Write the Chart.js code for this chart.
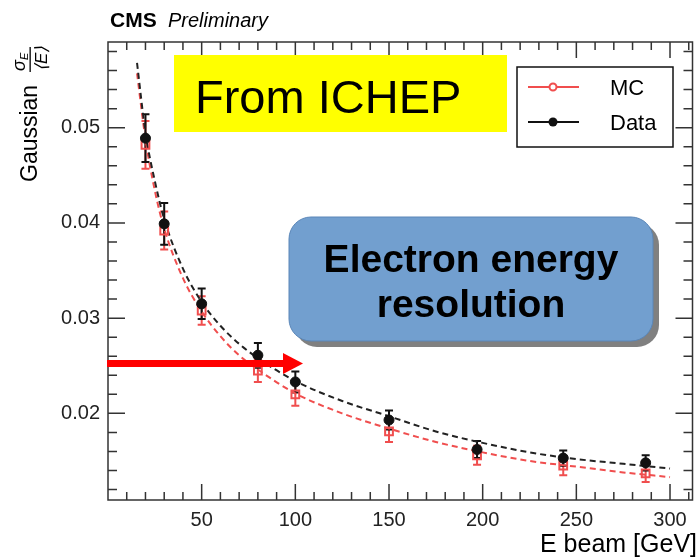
<!DOCTYPE html>
<html>
<head>
<meta charset="utf-8">
<script src="https://cdn.jsdelivr.net/npm/chart.js@4.4.1/dist/chart.umd.min.js"></script>
<style>
  body { margin: 0; background: #fff; }
  canvas { display: block; }
</style>
</head>
<body>
<canvas id="myChart" width="700" height="557"></canvas>
<script>
// beam energies [GeV]
const energies = [20, 30, 50, 80, 100, 150, 197, 243, 287];

// resolution values
const mcValues   = [0.0482, 0.0392, 0.0308, 0.0245, 0.0220, 0.0181, 0.0156, 0.0145, 0.0137];
const mcErrors   = [0.0025, 0.0020, 0.0015, 0.0012, 0.0012, 0.0011, 0.0010, 0.0010, 0.0009];
const dataValues = [0.0489, 0.0399, 0.0315, 0.0261, 0.0233, 0.0193, 0.0162, 0.0153, 0.0148];
const dataErrors = [0.0025, 0.0022, 0.0016, 0.0013, 0.0011, 0.0010, 0.0009, 0.0008, 0.0008];

// dashed fit curves
const fitX     = [15.5, 20, 25, 30, 40, 50, 60, 70, 80, 100, 125, 150, 175, 200, 225, 250, 275, 300];
const dataFitY = [0.0568, 0.0495, 0.0444, 0.0404, 0.0352, 0.0317, 0.0292, 0.0273, 0.0258, 0.0234, 0.0213, 0.0197, 0.0181, 0.0169, 0.0159, 0.0152, 0.0147, 0.0142];
const mcFitY   = [0.0557, 0.0488, 0.0434, 0.0394, 0.0342, 0.0307, 0.0281, 0.0261, 0.0246, 0.0221, 0.0200, 0.0184, 0.0170, 0.0159, 0.0150, 0.0144, 0.0138, 0.0133];

// axis ticks
const xTickLabels = [50, 100, 150, 200, 250, 300];
const yTickLabels = [0.02, 0.03, 0.04, 0.05];

const RED = '#f04e4e';
const FONT = '"Liberation Sans", Arial, Helvetica, sans-serif';

const pts = (xs, ys) => xs.map((x, i) => ({x: x, y: ys[i]}));

const frameTicks = {
  id: 'frameTicks',
  beforeDatasetsDraw(chart) {
    // error bars, under the markers
    const ctx = chart.ctx, xs = chart.scales.x, ys = chart.scales.y;
    const bars = [[mcValues, mcErrors, RED], [dataValues, dataErrors, '#111']];
    bars.forEach(([vals, errs, col]) => {
      ctx.save();
      ctx.strokeStyle = col;
      ctx.lineWidth = 2;
      energies.forEach((e, i) => {
        const px = xs.getPixelForValue(e);
        const top = ys.getPixelForValue(vals[i] + errs[i]);
        const bot = ys.getPixelForValue(vals[i] - errs[i]);
        ctx.beginPath();
        ctx.moveTo(px, top); ctx.lineTo(px, bot);
        ctx.moveTo(px - 4, top); ctx.lineTo(px + 4, top);
        ctx.moveTo(px - 4, bot); ctx.lineTo(px + 4, bot);
        ctx.stroke();
      });
      ctx.restore();
    });
  },
  afterDraw(chart) {
    const ctx = chart.ctx, a = chart.chartArea;
    const xs = chart.scales.x, ys = chart.scales.y;
    ctx.save();
    ctx.strokeStyle = '#333';
    ctx.lineWidth = 1.5;
    ctx.strokeRect(a.left, a.top, a.right - a.left, a.bottom - a.top);

    // inward ticks on all four sides
    ctx.beginPath();
    for (let v = 10; v <= 310; v += 10) {
      const px = xs.getPixelForValue(v);
      const len = v % 50 === 0 ? 16 : 8;
      ctx.moveTo(px, a.bottom); ctx.lineTo(px, a.bottom - len);
      ctx.moveTo(px, a.top); ctx.lineTo(px, a.top + len);
    }
    for (let k = 6; k <= 29; k++) {
      const v = k * 0.002;
      const py = ys.getPixelForValue(v);
      const len = k % 5 === 0 ? 17 : 9;
      ctx.moveTo(a.left, py); ctx.lineTo(a.left + len, py);
      ctx.moveTo(a.right, py); ctx.lineTo(a.right - len, py);
    }
    ctx.stroke();

    // header
    ctx.fillStyle = '#000';
    ctx.textBaseline = 'alphabetic';
    ctx.font = 'bold 21px ' + FONT;
    ctx.fillText('CMS', 110, 27);
    ctx.font = 'italic 20px ' + FONT;
    ctx.fillText('Preliminary', 168, 27);

    // x title
    ctx.font = '25px ' + FONT;
    ctx.textAlign = 'right';
    ctx.fillText('E beam [GeV]', 697, 552);
    ctx.textAlign = 'left';

    // y title, rotated
    ctx.save();
    ctx.rotate(-Math.PI / 2);
    ctx.font = '23px ' + FONT;
    ctx.fillText('Gaussian', -182, 37);
    ctx.font = 'italic 18px ' + FONT;
    ctx.fillText('\u03c3', -71, 25);
    ctx.font = 'italic 11px ' + FONT;
    ctx.fillText('E', -60, 28);
    ctx.fillRect(-72, 29.5, 25, 1.3);
    ctx.font = 'italic 17px ' + FONT;
    ctx.fillText('\u27e8E\u27e9', -71, 47);
    ctx.restore();

    // legend
    ctx.lineWidth = 1.5;
    ctx.strokeStyle = '#111';
    ctx.strokeRect(517, 67, 156, 80);
    ctx.font = '22px ' + FONT;
    const rows = [['MC', RED, 87, false], ['Data', '#111', 122, true]];
    rows.forEach(([lab, col, y, filled]) => {
      ctx.strokeStyle = col;
      ctx.lineWidth = 2;
      ctx.beginPath(); ctx.moveTo(528, y); ctx.lineTo(579, y); ctx.stroke();
      ctx.beginPath(); ctx.arc(553, y, filled ? 4.5 : 3.5, 0, Math.PI * 2);
      if (filled) { ctx.fillStyle = col; ctx.fill(); }
      else { ctx.fillStyle = '#fff'; ctx.fill(); ctx.stroke(); }
      ctx.fillStyle = '#000';
      ctx.fillText(lab, 610, y + 8);
    });

    // yellow label
    ctx.fillStyle = '#ffff00';
    ctx.fillRect(174, 55, 333, 77);
    ctx.fillStyle = '#000';
    ctx.font = '47px ' + FONT;
    ctx.fillText('From ICHEP', 195, 113);

    // blue rounded box with shadow
    ctx.fillStyle = '#808080';
    ctx.beginPath(); ctx.roundRect(295, 223, 364, 124, 22); ctx.fill();
    ctx.fillStyle = '#729fcf';
    ctx.strokeStyle = '#5a86b8';
    ctx.lineWidth = 1;
    ctx.beginPath(); ctx.roundRect(289, 217, 364, 124, 22); ctx.fill(); ctx.stroke();
    ctx.fillStyle = '#000';
    ctx.font = 'bold 39px ' + FONT;
    ctx.textAlign = 'center';
    ctx.fillText('Electron energy', 471, 272);
    ctx.fillText('resolution', 471, 317);
    ctx.textAlign = 'left';

    // red arrow
    ctx.fillStyle = '#ff0000';
    ctx.fillRect(107, 360, 178, 7);
    ctx.beginPath();
    ctx.moveTo(283, 353); ctx.lineTo(303, 363.5); ctx.lineTo(283, 374);
    ctx.closePath(); ctx.fill();
    ctx.restore();
  }
};

new Chart(document.getElementById('myChart'), {
  type: 'scatter',
  data: {
    datasets: [
      {
        label: 'Data',
        data: pts(energies, dataValues),
        pointStyle: 'circle',
        pointRadius: 5,
        backgroundColor: '#111',
        borderColor: '#111',
        order: 1
      },
      {
        label: 'MC',
        data: pts(energies, mcValues),
        pointStyle: 'rect',
        pointRadius: 5.5,
        borderWidth: 2,
        backgroundColor: 'rgba(255,255,255,0)',
        borderColor: RED,
        order: 2
      },
      {
        label: 'Data fit',
        data: pts(fitX, dataFitY),
        showLine: true,
        pointRadius: 0,
        borderColor: '#222',
        borderWidth: 2,
        borderDash: [6, 4],
        cubicInterpolationMode: 'monotone',
        order: 3
      },
      {
        label: 'MC fit',
        data: pts(fitX, mcFitY),
        showLine: true,
        pointRadius: 0,
        borderColor: RED,
        borderWidth: 2,
        borderDash: [6, 4],
        cubicInterpolationMode: 'monotone',
        order: 4
      }
    ]
  },
  options: {
    responsive: false,
    animation: false,
    layout: { padding: { top: 42, right: 7, left: 0, bottom: 0 } },
    plugins: { legend: { display: false }, tooltip: { enabled: false } },
    scales: {
      x: {
        type: 'linear',
        min: 0,
        max: 312,
        grid: { display: false, drawTicks: false },
        border: { display: false },
        afterFit: s => { s.height = 57; },
        afterBuildTicks: s => { s.ticks = xTickLabels.map(v => ({value: v})); },
        ticks: { padding: 8, color: '#222', font: { size: 20, family: FONT }, maxRotation: 0 }
      },
      y: {
        type: 'linear',
        min: 0.0109,
        max: 0.059,
        grid: { display: false, drawTicks: false },
        border: { display: false },
        afterFit: s => { s.width = 108; },
        afterBuildTicks: s => { s.ticks = yTickLabels.map(v => ({value: v})); },
        ticks: { padding: 8, color: '#222', font: { size: 20, family: FONT },
                 callback: v => v.toFixed(2) }
      }
    }
  },
  plugins: [frameTicks]
});
</script>
</body>
</html>
